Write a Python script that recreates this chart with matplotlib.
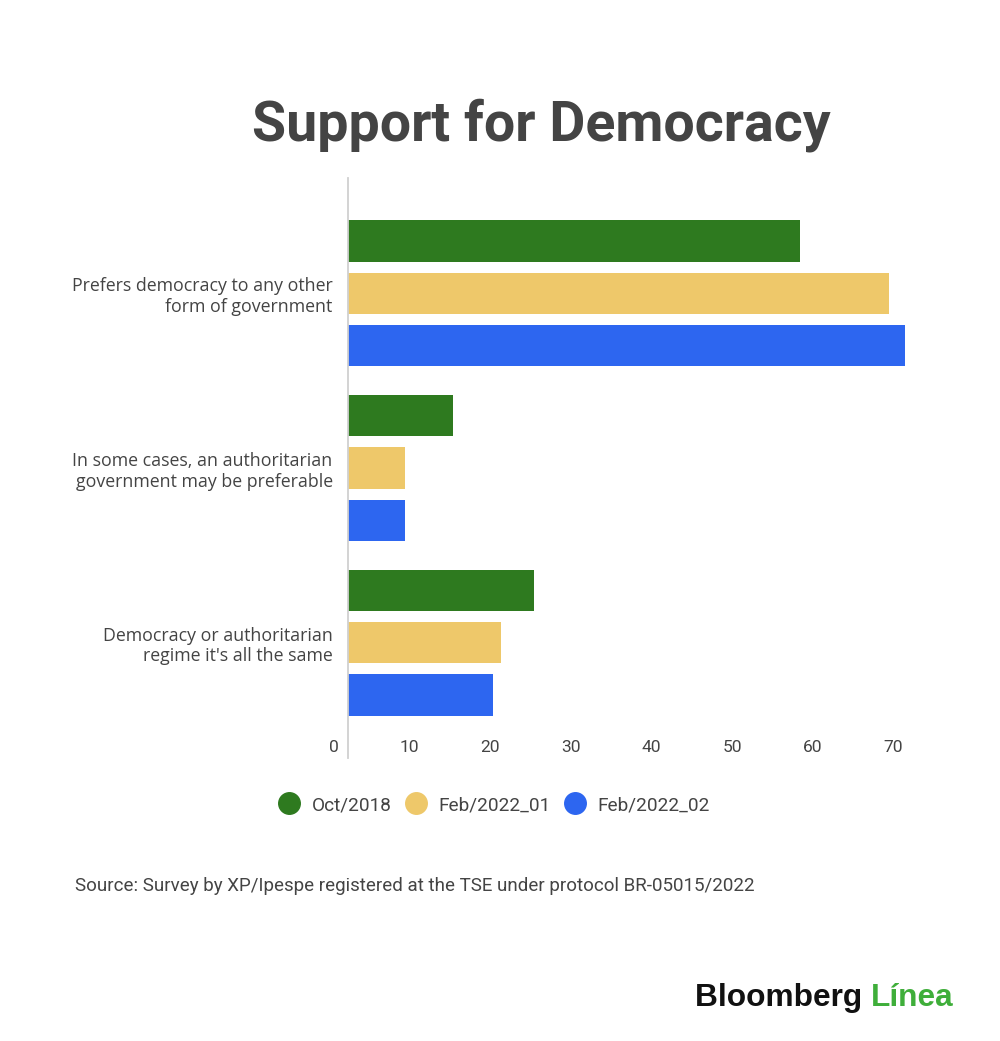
import matplotlib
matplotlib.use("Agg")
import matplotlib.pyplot as plt
from matplotlib.lines import Line2D
from matplotlib.transforms import ScaledTranslation, blended_transform_factory
import numpy as np

# ---- data ----
categories = [
    "Prefers democracy to any other\nform of government",
    "In some cases, an authoritarian\ngovernment may be preferable",
    "Democracy or authoritarian\nregime it's all the same",
]
series_names = ["Oct/2018", "Feb/2022_01", "Feb/2022_02"]
oct_2018 = [58, 15, 25]
feb_2022_01 = [69, 9, 21]
feb_2022_02 = [71, 9, 20]
x_ticks = [10, 20, 30, 40, 50, 60, 70]

colors = ["#2e7a1f", "#eec86a", "#2d66f0"]
TXT = "#444444"

W, H = 1000, 1041
fig = plt.figure(figsize=(W / 100, H / 100), dpi=100)
fig.patch.set_facecolor("white")

left_px, right_px, top_px, bot_px = 348, 920, 178, 758
ax = fig.add_axes([left_px / W, 1 - bot_px / H, (right_px - left_px) / W, (bot_px - top_px) / H])

y = np.arange(len(categories))
offs = [-0.2995, 0.0, 0.2995]
for vals, off, c, name in zip([oct_2018, feb_2022_01, feb_2022_02], offs, colors, series_names):
    ax.barh(y + off, vals, height=0.235, color=c, label=name)

ax.set_xlim(1.98, 72.9)
ax.set_ylim(2.66, -0.66)

for s in ["top", "right", "bottom"]:
    ax.spines[s].set_visible(False)
ax.spines["left"].set_color("#d0d0d0")
ax.spines["left"].set_linewidth(1.3)

ax.set_yticks(y, categories, fontsize=12.8, family="Open Sans", color=TXT, linespacing=1.2)
ax.tick_params(axis="y", length=0, pad=11)

PAD_PT = -13
ax.set_xticks(x_ticks, [str(v) for v in x_ticks])
ax.tick_params(axis="x", length=0, pad=PAD_PT, labelsize=12.5, labelcolor=TXT)
off_t = ScaledTranslation(-3 / 100, 0, fig.dpi_scale_trans)
for lab in ax.get_xticklabels():
    lab.set_fontfamily("Roboto")
    lab.set_transform(lab.get_transform() + off_t)
# zero label (axis starts just right of zero)
tr = blended_transform_factory(ax.transData, ax.transAxes)
ax.text(0, 0, "0", transform=tr + ScaledTranslation(2 / 100, -PAD_PT / 72, fig.dpi_scale_trans),
        ha="center", va="top", fontsize=12.5, family="Roboto", color=TXT, clip_on=False)

# title
fig.text(541 / W, 1 - 125 / H, "Support for Democracy", ha="center", va="center",
         fontsize=40, fontweight="bold", family="Roboto", color=TXT)

# legend
handles = [Line2D([], [], marker="o", linestyle="none", markersize=15.5,
                  markerfacecolor=c, markeredgecolor=c) for c in colors]
fig.legend(handles, series_names, loc="center", bbox_to_anchor=(493 / W, 1 - 805 / H),
           ncol=3, frameon=False, handletextpad=0.5, columnspacing=0.55, handlelength=1.4,
           prop={"family": "Roboto", "size": 13.7}, labelcolor=TXT)

# source
fig.text(75 / W, 1 - 886 / H,
         "Source: Survey by XP/Ipespe registered at the TSE under protocol BR-05015/2022",
         ha="left", va="center", fontsize=13.5, family="Roboto", color=TXT)

# logo text
t1 = fig.text(695 / W, 1 - 998 / H, "Bloomberg ", ha="left", va="center",
              fontsize=22.8, fontweight="bold", family="Liberation Sans", color="#111111")
fig.canvas.draw()
bb = t1.get_window_extent()
fig.text(bb.x1 / W, 1 - 998 / H, "Línea", ha="left", va="center",
         fontsize=22.8, fontweight="bold", family="Liberation Sans", color="#3fae3a")

fig.savefig("out.png", dpi=100, facecolor="white")
